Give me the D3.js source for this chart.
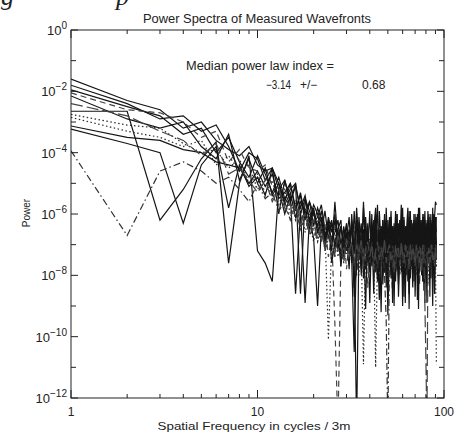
<!DOCTYPE html>
<html><head><meta charset="utf-8">
<script src="https://cdn.jsdelivr.net/npm/d3@7"></script>
<style>
body{margin:0;background:#fff;}
svg text{font-family:"Liberation Sans",Arial,sans-serif;fill:#222;}
</style></head>
<body><svg id="c" width="454" height="432"></svg>
<script>
// Spatial frequencies (cycles / 3m)
const freqs = d3.range(1, 92);
// log10(Power) for each measured wavefront spectrum
const s1 = [-1.6,-2.3,-2.6,-3.2,-3.0,-3.6,-3.9,-4.1,-3.8,-4.4,
 -4.6,-4.5,-5.2,-4.9,-5.6,-5.1,-5.8,-5.4,-6.2,-5.7,
 -6.0,-6.6,-5.9,-6.8,-6.3,-7.1,-6.5,-6.2,-7.4,-6.6,
 -7.0,-6.4,-7.6,-13,-6.8,-7.3,-6.5,-7.8,-6.9,-7.2,
 -6.4,-7.5,-7.0,-8.1,-6.7,-7.3,-6.2,-7.9,-6.9,-7.4,
 -6.6,-8.0,-7.1,-6.5,-7.7,-6.8,-7.4,-6.3,-7.9,-7.0,
 -6.7,-7.6,-6.4,-8.2,-7.1,-6.6,-7.5,-6.9,-7.8,-6.5,
 -7.3,-6.8,-7.7,-6.4,-7.2,-8.0,-6.7,-7.4,-6.5,-7.6,
 -6.9,-7.3,-6.3,-7.8,-6.8,-7.5,-6.6,-7.1,-7.9,-6.7,-6.1];
const s2 = [-1.8,-2.4,-2.9,-2.8,-3.3,-3.1,-3.8,-4.6,-4.0,-4.2,
 -4.9,-4.5,-5.0,-5.6,-5.0,-5.9,-5.3,-6.1,-5.6,-6.4,
 -5.8,-6.2,-6.9,-6.1,-6.6,-6.0,-7.2,-6.4,-6.9,-6.3,
 -7.1,-6.3,-8.7,-6.2,-7.0,-7.7,-5.6,-7.2,-6.4,-8.9,
 -6.3,-7.2,-6.0,-7.5,-6.5,-9.2,-6.2,-7.1,-6.4,-8.6,
 -6.1,-7.4,-6.5,-9.0,-6.3,-7.0,-8.3,-6.2,-7.2,-6.1,
 -8.7,-6.4,-7.3,-6.2,-9.1,-6.5,-7.1,-8.4,-6.3,-7.3,
 -6.1,-8.8,-6.6,-7.9,-6.2,-7.2,-6.0,-8.5,-6.4,-6.7,
 -8.9,-6.2,-7.3,-6.5,-8.1,-6.3,-7.4,-6.1,-8.6,-6.4,-7.5];
const s3 = [-1.95,-2.5,-2.8,-3.4,-3.2,-4.0,-3.5,-4.3,-4.8,-4.1,
 -4.7,-5.3,-4.8,-5.5,-5.2,-5.0,-6.0,-5.5,-5.9,-6.3,
 -6.1,-5.7,-6.5,-6.4,-7.0,-6.2,-6.7,-7.3,-6.4,-7.0,
 -6.5,-7.2,-6.9,-6.4,-7.5,-6.8,-7.1,-6.3,-7.6,-6.9,
 -7.3,-6.5,-5.8,-6.8,-7.2,-6.6,-7.5,-6.4,-8.0,-7.0,
 -6.7,-7.3,-6.4,-7.1,-7.8,-6.6,-7.0,-7.5,-6.5,-8.1,
 -6.8,-7.2,-6.6,-7.4,-6.3,-7.6,-7.0,-6.7,-7.3,-8.0,
 -6.6,-7.1,-6.4,-7.7,-6.9,-7.3,-6.5,-7.8,-6.8,-7.2,
 -6.4,-7.6,-7.0,-6.6,-7.3,-6.5,-7.9,-6.8,-7.1,-6.5,-7.4];
const s4 = [-2.05,-2.6,-2.7,-3.0,-3.5,-3.3,-4.3,-3.9,-4.5,-4.6,
 -4.4,-5.1,-5.4,-5.0,-5.8,-5.5,-6.2,-5.9,-6.6,-6.0,
 -6.5,-6.9,-6.3,-7.4,-6.7,-9.6,-13,-7.5,-6.6,-7.8,
 -6.9,-7.4,-6.4,-8.0,-7.1,-6.7,-7.6,-6.9,-8.4,-7.2,
 -6.6,-7.7,-7.0,-6.5,-8.2,-6.9,-7.4,-6.7,-7.9,-7.1,
 -6.8,-7.5,-8.6,-6.9,-7.3,-6.6,-7.8,-7.0,-6.7,-7.6,
 -7.2,-6.5,-8.0,-7.1,-6.8,-7.7,-6.6,-7.4,-7.9,-6.9,
 -7.5,-6.7,-7.2,-8.3,-6.8,-7.4,-6.6,-7.9,-7.1,-6.8,
 -7.6,-6.9,-7.3,-6.7,-8.1,-7.0,-6.6,-7.5,-7.2,-6.8,-7.7];
const s5 = [-2.15,-2.9,-3.2,-3.0,-3.8,-4.2,-3.4,-4.9,-4.2,-5.0,
 -4.5,-5.4,-5.0,-5.7,-5.3,-6.1,-5.6,-5.9,-6.5,-5.8,
 -6.6,-6.3,-7.0,-6.5,-6.2,-7.1,-6.6,-7.5,-6.8,-6.4,
 -7.3,-6.2,-8.4,-7.8,-6.1,-7.2,-6.5,-9.1,-6.3,-7.4,
 -6.4,-8.6,-6.0,-7.1,-8.8,-6.4,-8.3,-6.5,-6.2,-9.3,
 -7.1,-6.1,-8.9,-6.4,-7.4,-6.0,-8.7,-7.2,-6.3,-9.0,
 -6.2,-8.9,-6.5,-5.8,-8.6,-6.1,-7.3,-6.5,-6.2,-8.7,
 -7.1,-6.0,-9.1,-6.4,-7.5,-6.2,-8.2,-6.1,-8.9,-6.5,
 -6.3,-7.4,-6.4,-8.7,-6.0,-7.2,-9.0,-6.3,-8.6,-6.1,-7.0];
const s6 = [-2.65,-2.65,-6.2,-5.2,-4.2,-3.65,-7.6,-5.0,-4.1,-7.2,
 -7.6,-8.2,-5.2,-6.0,-5.4,-8.6,-5.9,-8.9,-6.1,-6.8,
 -9.0,-6.4,-7.1,-6.2,-7.6,-6.9,-6.5,-7.7,-6.8,-7.2,
 -6.6,-7.5,-10.5,-7.0,-6.5,-7.8,-6.9,-7.3,-6.6,-7.6,
 -7.1,-6.7,-7.9,-6.8,-7.3,-6.5,-8.0,-7.2,-6.7,-7.4,
 -6.9,-7.7,-6.6,-7.3,-8.2,-6.8,-7.1,-6.5,-7.6,-7.0,
 -7.4,-6.7,-7.8,-6.9,-7.2,-8.1,-6.6,-7.3,-6.8,-7.5,
 -6.9,-7.8,-7.1,-6.6,-7.4,-6.8,-8.2,-7.0,-7.3,-6.7,
 -7.5,-7.1,-6.8,-7.6,-6.9,-7.3,-6.5,-7.8,-6.7,-7.2,-6.9];
const s7 = [-2.75,-3.1,-3.2,-3.7,-4.0,-3.9,-4.5,-4.2,-5.0,-4.7,
 -5.3,-4.9,-5.7,-5.2,-6.0,-5.6,-6.4,-5.8,-6.3,-6.9,
 -6.2,-6.8,-6.5,-10.1,-6.9,-7.2,-6.6,-7.5,-6.9,-7.3,
 -6.8,-7.6,-6.9,-7.2,-8.0,-6.7,-7.4,-6.9,-7.7,-7.0,
 -6.6,-7.3,-7.9,-6.8,-7.2,-6.9,-7.6,-7.1,-6.7,-8.2,
 -7.0,-6.8,-7.5,-7.2,-6.6,-7.9,-7.0,-7.4,-6.8,-7.7,
 -7.1,-6.9,-7.5,-7.9,-6.7,-7.2,-7.0,-7.6,-6.8,-7.4,
 -8.0,-7.0,-6.8,-7.3,-7.1,-7.7,-6.9,-7.3,-7.5,-6.8,
 -7.2,-8.3,-7.0,-7.4,-6.8,-7.7,-7.1,-6.9,-7.5,-7.2,-7.8];
const s8 = [-2.85,-3.3,-3.5,-3.8,-3.6,-4.4,-4.1,-4.6,-4.4,-5.2,
 -4.8,-5.5,-5.1,-5.9,-5.4,-6.2,-5.7,-6.6,-6.0,-6.5,
 -6.9,-6.3,-7.2,-6.7,-7.0,-6.4,-7.4,-6.8,-7.6,-7.0,
 -6.7,-7.3,-7.0,-7.5,-6.8,-7.1,-10.9,-7.0,-7.3,-6.8,
 -7.6,-7.2,-11.0,-7.3,-7.0,-7.7,-6.9,-7.4,-7.2,-7.0,
 -7.5,-7.1,-6.9,-7.8,-7.2,-7.3,-6.9,-8.0,-7.1,-7.4,
 -7.0,-7.6,-7.2,-6.9,-7.7,-7.3,-7.8,-7.0,-7.2,-6.9,
 -7.6,-7.4,-7.0,-7.8,-7.1,-6.9,-7.5,-7.2,-8.1,-7.1,
 -7.0,-7.6,-7.3,-6.9,-7.5,-7.8,-7.1,-7.4,-6.8,-7.3,-10.9];
const s9 = [-3.13,-3.5,-3.6,-3.9,-4.0,-4.3,-4.4,-4.5,-5.0,-4.6,
 -5.1,-4.7,-5.5,-5.3,-5.0,-5.8,-5.4,-6.2,-5.6,-6.0,
 -6.4,-5.9,-6.7,-6.3,-6.9,-6.6,-6.2,-7.0,-6.5,-6.8,
 -6.1,-7.6,-5.9,-7.3,-6.4,-8.0,-5.8,-7.1,-6.6,-7.9,
 -6.0,-7.4,-6.3,-8.2,-5.9,-7.0,-6.5,-7.7,-5.8,-7.3,
 -6.2,-8.1,-6.4,-7.2,-5.9,-7.8,-6.3,-7.0,-5.7,-7.5,
 -6.1,-8.3,-6.5,-7.2,-5.9,-7.6,-6.2,-7.9,-6.0,-7.1,
 -6.4,-7.7,-5.8,-7.4,-6.3,-8.0,-6.1,-7.2,-5.9,-7.6,
 -6.4,-7.0,-6.0,-7.8,-6.2,-7.3,-5.8,-7.5,-6.1,-5.6,-5.7];
const s10 = [-3.23,-3.7,-4.0,-6.3,-4.4,-3.8,-5.8,-4.4,-5.1,-4.8,
 -5.4,-4.5,-6.0,-4.9,-5.6,-5.0,-8.6,-5.5,-6.3,-5.9,
 -6.6,-6.1,-6.8,-6.3,-7.2,-5.6,-6.9,-6.4,-7.1,-6.7,
 -7.8,-6.0,-7.3,-5.8,-7.0,-6.3,-8.1,-6.1,-7.4,-5.9,
 -7.7,-6.2,-7.1,-5.7,-7.9,-6.4,-7.2,-6.0,-8.4,-6.2,
 -7.0,-5.9,-7.6,-6.3,-7.3,-6.0,-8.0,-6.2,-7.1,-5.8,
 -7.5,-6.4,-7.8,-6.1,-7.0,-5.9,-7.7,-6.3,-8.2,-6.0,
 -7.3,-6.2,-7.9,-5.8,-7.1,-6.4,-7.5,-6.0,-8.0,-6.2,
 -7.2,-5.9,-7.6,-6.1,-7.4,-6.3,-7.8,-6.0,-7.1,-6.2,-6.6];
const s11 = [-3.94,-6.7,-4.6,-4.3,-4.6,-5.0,-4.8,-5.2,-5.6,-5.0,
 -5.5,-5.3,-5.9,-5.6,-6.2,-5.8,-6.5,-6.1,-6.7,-6.4,
 -6.9,-6.5,-7.2,-6.8,-7.0,-7.4,-6.7,-7.1,-7.6,-6.9,
 -7.3,-7.0,-7.7,-6.9,-7.4,-7.1,-7.8,-7.0,-7.3,-7.6,
 -6.9,-7.5,-7.2,-7.8,-7.0,-7.4,-7.1,-8.0,-9.5,-13,
 -7.2,-7.6,-7.0,-7.4,-7.8,-7.1,-7.3,-7.7,-7.0,-7.5,
 -7.2,-7.8,-7.0,-7.4,-7.1,-7.7,-7.3,-7.0,-7.6,-7.2,
 -7.5,-7.1,-7.8,-7.0,-7.4,-7.2,-7.6,-7.0,-7.3,-7.7,
 -7.1,-7.5,-7.2,-7.8,-7.0,-7.4,-7.1,-7.6,-7.3,-7.0,-7.5];
const s12 = [-2.4,-2.8,-3.3,-3.6,-4.1,-3.7,-4.7,-4.5,-4.9,-5.3,
 -4.9,-5.6,-5.2,-5.8,-6.1,-5.7,-6.3,-6.0,-6.6,-6.2,
 -6.8,-6.4,-7.1,-6.6,-6.9,-7.3,-6.7,-7.0,-7.5,-6.8,
 -7.2,-6.9,-7.6,-7.0,-7.3,-6.8,-7.7,-7.1,-6.9,-7.4,
 -7.0,-7.8,-7.2,-6.9,-7.5,-7.1,-7.4,-6.8,-7.6,-7.2,
 -7.0,-7.5,-7.3,-7.9,-7.0,-7.4,-7.1,-7.7,-6.9,-7.3,
 -7.6,-7.0,-7.4,-7.2,-7.8,-7.0,-7.5,-7.1,-7.3,-7.7,
 -7.0,-7.4,-7.2,-7.6,-7.1,-7.9,-7.0,-7.3,-9.0,-10.8,
 -13,-7.4,-7.1,-7.6,-7.2,-7.0,-7.5,-7.3,-7.7,-7.1,-7.4];
const seriesList = [s1,s2,s3,s4,s5,s6,s7,s8,s9,s10,s11,s12];
const lineStyles = ["solid","solid","solid","dashed","solid","solid","dotted","dotted","solid","solid","dashdot","longdash"];
const yTickExps = [0,-2,-4,-6,-8,-10,-12];
const xTickLabels = ["1","10","100"];
const titleText = "Power Spectra of Measured Wavefronts";
const annotLine1 = "Median power law index =";
const annotValue = "\u22123.14", annotPM = "+/\u2212", annotErr = "0.68";

const svg = d3.select("#c");
const L=71, R=444, T=30, B=398;
const x = d3.scaleLog().domain([1,100]).range([L,R]);
const y = d3.scaleLog().domain([1e-12,1]).range([B,T]);

// clipped caption fragment from the page above the figure
svg.append("text").attr("x",1).attr("y",5)
  .attr("font-style","italic").attr("font-size",26).style("font-family","Liberation Serif,serif").text("g");
svg.append("text").attr("x",116).attr("y",5)
  .attr("font-style","italic").attr("font-size",26).style("font-family","Liberation Serif,serif").text("p");

svg.append("defs").append("clipPath").attr("id","clip")
  .append("rect").attr("x",L).attr("y",T).attr("width",R-L).attr("height",B-T);

const dashes = {solid:null, dashed:"6,4", dotted:"1.5,2.5", dashdot:"7,3,1.5,3", longdash:"12,4"};
const greys = {solid:"#151515", dashed:"#444", dotted:"#2a2a2a", dashdot:"#333", longdash:"#444"};
const line = d3.line().x(d=>x(d[0])).y(d=>y(d[1]));
const g = svg.append("g").attr("clip-path","url(#clip)");
seriesList.forEach((s,i)=>{
  const pts = s.map((v,j)=>[freqs[j], Math.pow(10,v)]);
  g.append("path").datum(pts).attr("d",line).attr("fill","none")
    .attr("stroke",greys[lineStyles[i]]).attr("stroke-width",1.2)
    .attr("stroke-dasharray",dashes[lineStyles[i]]);
});

// axes box
svg.append("rect").attr("x",L).attr("y",T).attr("width",R-L).attr("height",B-T)
  .attr("fill","none").attr("stroke","#222").attr("stroke-width",1);

// y ticks (left & right), every decade
const yMajor = d3.range(-12,1);
yMajor.forEach(e=>{
  const yy = y(Math.pow(10,e));
  const len = (e%2===0)?7:5;
  svg.append("line").attr("x1",L).attr("x2",L+len).attr("y1",yy).attr("y2",yy).attr("stroke","#222");
  svg.append("line").attr("x1",R).attr("x2",R-len).attr("y1",yy).attr("y2",yy).attr("stroke","#222");
});
yTickExps.forEach(e=>{
  const yy = y(Math.pow(10,e));
  const t = svg.append("text").attr("x",L-4).attr("y",yy+5).attr("text-anchor","end").attr("font-size",13);
  t.append("tspan").text("10");
  t.append("tspan").attr("dy",-6).attr("font-size",10).text(e===0?"0":"\u2212"+(-e));
});

// x ticks
const xTicks = x.ticks();
xTicks.forEach(v=>{
  const xx = x(v);
  const major = [1,10,100].includes(v);
  const len = major?8:4;
  svg.append("line").attr("x1",xx).attr("x2",xx).attr("y1",B).attr("y2",B-len).attr("stroke","#222");
  svg.append("line").attr("x1",xx).attr("x2",xx).attr("y1",T).attr("y2",T+len).attr("stroke","#222");
});
[1,10,100].forEach((v,i)=>{
  svg.append("text").attr("x",x(v)).attr("y",416).attr("text-anchor","middle").attr("font-size",12).text(xTickLabels[i]);
});

// titles
svg.append("text").attr("x",257).attr("y",23).attr("text-anchor","middle").attr("font-size",12.5)
  .attr("textLength",228).attr("lengthAdjust","spacingAndGlyphs").text(titleText);
svg.append("text").attr("x",254).attr("y",430).attr("text-anchor","middle").attr("font-size",10.5)
  .attr("textLength",193).attr("lengthAdjust","spacingAndGlyphs").text("Spatial Frequency in cycles / 3m");
svg.append("text").attr("transform","translate(30,213) rotate(-90)").attr("text-anchor","middle")
  .attr("font-size",10).text("Power");

// annotation
svg.append("text").attr("x",186).attr("y",70).attr("font-size",12)
  .attr("textLength",148).attr("lengthAdjust","spacingAndGlyphs").text(annotLine1);
svg.append("text").attr("x",266).attr("y",89).attr("font-size",12)
  .attr("textLength",25).attr("lengthAdjust","spacingAndGlyphs").text(annotValue);
svg.append("text").attr("x",300).attr("y",89).attr("font-size",12).text(annotPM);
svg.append("text").attr("x",362).attr("y",89).attr("font-size",12).text(annotErr);
</script></body></html>
